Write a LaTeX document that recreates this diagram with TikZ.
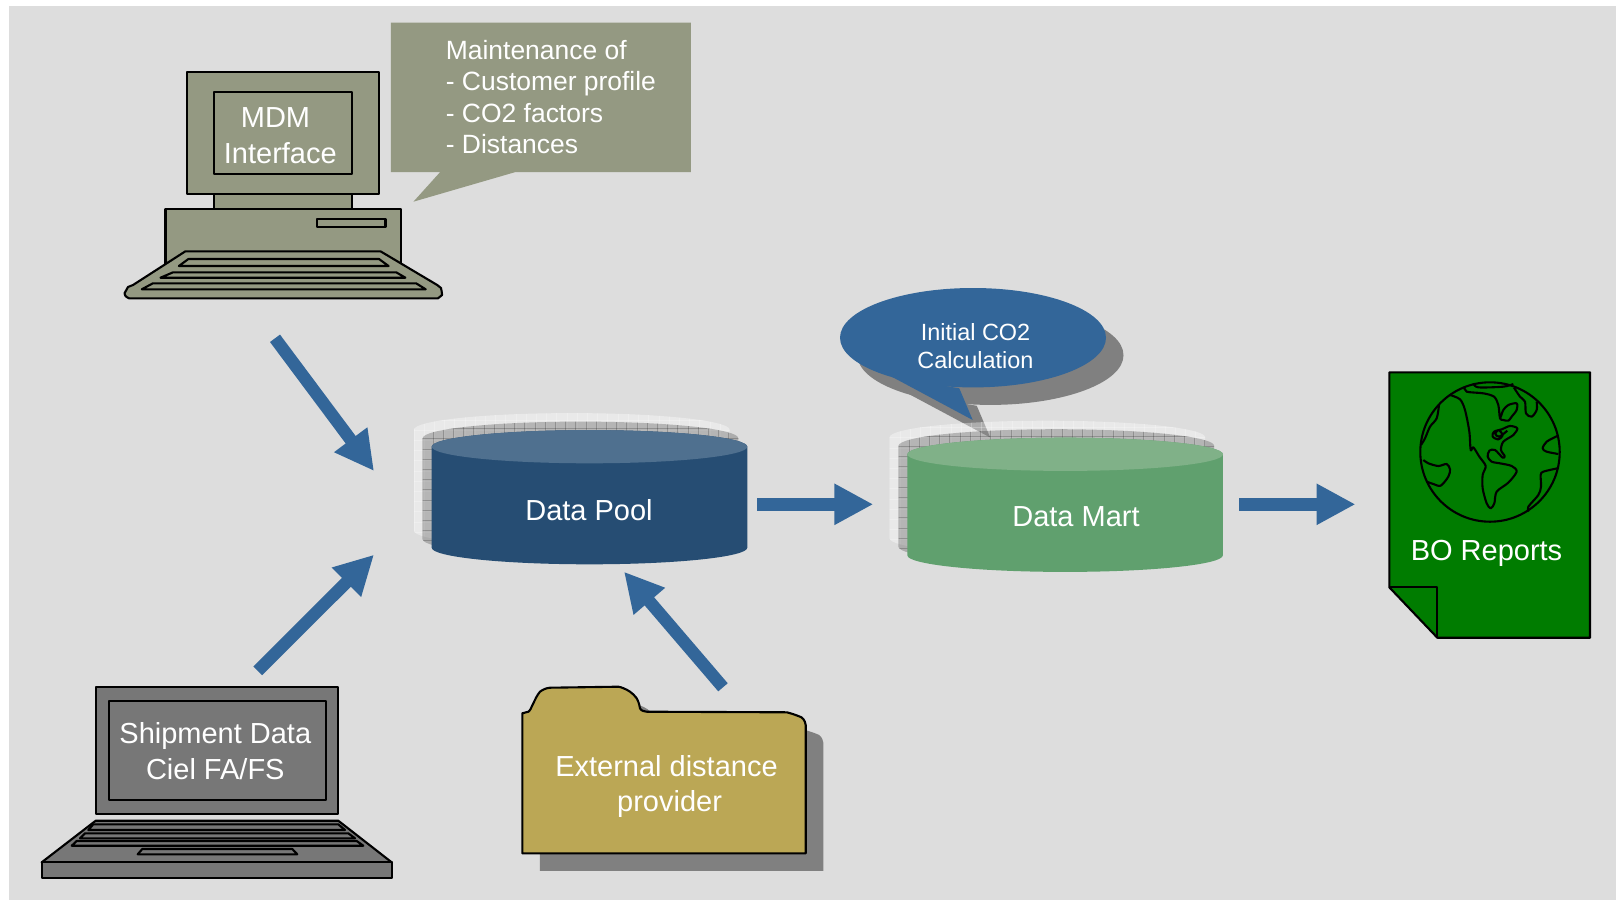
\documentclass[tikz,border=0pt]{standalone}
\usepackage{fontspec}
\setmainfont{Liberation Sans}
\usepackage{tikz}
\usetikzlibrary{arrows.meta}

\definecolor{pagegrey}{HTML}{DDDDDD}
\definecolor{olive}{HTML}{949982}
\definecolor{arrowblue}{HTML}{336699}
\definecolor{poolblue}{HTML}{264D73}
\definecolor{pooltop}{HTML}{4F708F}
\definecolor{martgreen}{HTML}{60A06E}
\definecolor{marttop}{HTML}{80B188}
\definecolor{laptopgrey}{HTML}{777777}
\definecolor{foldergold}{HTML}{BBA755}
\definecolor{reportgreen}{HTML}{007C00}
\definecolor{shadowgrey}{HTML}{808080}

\tikzset{
  outline/.style={draw=black, line width=1.2pt, line join=round},
  bigarrow/.style={draw=arrowblue, line width=7.1pt,
    -{Triangle[length=22.2pt, width=22pt]}},
  whitetext/.style={text=white, align=center, inner sep=0pt,
    font=\fontsize{16.5}{20.4}\selectfont},
  smalltext/.style={whitetext, font=\fontsize{13.35}{15.9}\selectfont},
  halo/.style={fill=white, fill opacity=.36, draw=none},
  hatched/.style={fill=black, fill opacity=.22, draw=none},
  halogrid/.style={white, opacity=.25, line width=.35pt},
  hatchgrid/.style={black, opacity=.2, line width=.35pt},
}

% one drum: body and lid, (#1,#2) is the left end of the lid
\newcommand{\drumbody}[3]{
  \fill[#3] (#1,#2) -- ++(0,101) arc[start angle=180, end angle=0, x radius=157.8, y radius=16.6]
    -- ++(0,-101) arc[start angle=0, end angle=-180, x radius=157.8, y radius=16.6] -- cycle;
}
% grid over a shadow drum
\newcommand{\drumgrid}[3]{
  \begin{scope}
    \clip (#1,#2) -- ++(0,101) arc[start angle=180, end angle=0, x radius=157.8, y radius=16.6]
      -- ++(0,-101) arc[start angle=0, end angle=-180, x radius=157.8, y radius=16.6] -- cycle;
    \foreach \gx in {0,...,31}
      \draw[#3] ({#1+10.2*\gx},{#2-20}) -- ++(0,150);
    \foreach \gy in {0,...,13}
      \draw[#3] ({#1-2},{#2-20+10.2*\gy}) -- ++(320,0);
  \end{scope}
}

\begin{document}
\begin{tikzpicture}[x=0.02cm, y=-0.02cm]

\useasboundingbox (0,0) rectangle (1616,900);
\fill[white] (0,0) rectangle (1616,900);
\fill[pagegrey] (9,6) rectangle (1616,900);

% bubble over the mart
\fill[shadowgrey, shift={(17.5,17.5)}] (891.7,376.7) -- (972.7,420) -- (959.3,388.3) -- cycle;
\fill[shadowgrey] (990.5,355.2) ellipse [x radius=133, y radius=49.7];
\fill[arrowblue] (891.7,376.7) -- (972.7,420) -- (959.3,388.3) -- cycle;
\fill[arrowblue] (973,337.7) ellipse [x radius=133, y radius=49.7];
\node[smalltext] (bubble) at (975.5,346) {Initial CO2\\Calculation};

% data pool
\drumbody{414}{429.7}{halo}
\drumgrid{414}{429.7}{halogrid}
\drumbody{422.7}{438.2}{hatched}
\drumgrid{422.7}{438.2}{hatchgrid}
\drumbody{431.7}{446.7}{poolblue}
\fill[pooltop] (589.5,446.7) ellipse [x radius=157.8, y radius=16.6];
\node[whitetext] (pool) at (589,510) {Data Pool};

% data mart
\drumbody{889.6}{437.3}{halo}
\drumgrid{889.6}{437.3}{halogrid}
\drumbody{898.6}{445.8}{hatched}
\drumgrid{898.6}{445.8}{hatchgrid}
\drumbody{907.3}{454.3}{martgreen}
\fill[marttop] (1065.2,454.3) ellipse [x radius=157.8, y radius=16.6];
\node[whitetext] (mart) at (1076,517) {Data Mart};

% mdm desktop
\draw[outline, fill=olive] (186.9,71.7) rectangle (378.6,194);
\draw[outline, fill=olive] (214.1,91.7) rectangle (351.8,174);
\draw[outline, fill=olive] (214.1,194) rectangle (351.8,209);
\draw[outline, fill=olive] (165.5,209) rectangle (400.8,268);
\draw[outline, fill=olive] (317,219) rectangle (385.5,226.7);
\draw[outline, fill=olive] (185.4,251.3) -- (380.5,251.3) -- (437.2,285) -- (441,288)
  .. controls (442,292) and (442,295) .. (442.1,295) -- (438,298.3) -- (129,298.3)
  .. controls (126,297) and (124,295) .. (124.5,293.3) -- (128,287) -- (133,285) -- cycle;
\draw[outline] (188.4,259) -- (379,259) -- (388.6,266) -- (178.9,266) -- cycle;
\draw[outline] (173.1,272.3) -- (396.2,272.3) -- (405.4,277.7) -- (160.5,277.7) -- cycle;
\draw[outline] (152.9,283.3) -- (416.1,283.3) -- (425.7,289.3) -- (141.8,289.3) -- cycle;
\node[whitetext] (mdm) at (280.3,136) {MDM\hspace*{5.5pt}\\Interface};

% maintenance callout
\fill[olive] (390.9,22.7) -- (690.9,22.7) -- (690.9,172) -- (515.6,172) -- (413.4,201.7) -- (440.2,172) -- (390.9,172) -- cycle;
\node[whitetext, align=left, anchor=west, font=\fontsize{15.05}{17.75}\selectfont] (maint) at (445.5,97)
  {Maintenance of\\- Customer profile\\- CO2 factors\\- Distances};

% laptop
\draw[outline, fill=laptopgrey] (96,686.7) rectangle (338.3,814.3);
\draw[outline, fill=laptopgrey] (109,700.7) rectangle (326,800);
\draw[outline, fill=laptopgrey] (95.7,820.7) -- (338.3,820.7) -- (391.7,862.3) -- (41.7,862.3) -- cycle;
\draw[outline, fill=laptopgrey] (41.7,862.3) rectangle (391.7,878.3);
\draw[outline] (93.3,824.3) -- (338.3,824.3) -- (345,830) -- (88.3,830) -- cycle;
\draw[outline] (85,833.3) -- (348.3,833.3) -- (355,838.3) -- (80,838.3) -- cycle;
\draw[outline] (76.7,841) -- (356.7,841) -- (363.3,845.7) -- (71.7,845.7) -- cycle;
\draw[outline] (142.3,849) -- (292.3,849) -- (297.3,854.3) -- (137.7,854.3) -- cycle;
\node[whitetext] (shipment) at (215.3,751) {Shipment Data\\Ciel FA/FS};

% folder
\newcommand{\folderpath}{(522.3,853.3) -- (805.7,853.3) -- (805.7,725)
  .. controls (805,720) and (802,717) .. (800,716.7)
  .. controls (796,715) and (790,713) .. (786.7,712.3) -- (646.7,711.7)
  .. controls (641,711) and (640,709) .. (640,708.3)
  .. controls (639,702) and (637,699) .. (636.7,698.3)
  .. controls (634,695) and (632,693) .. (630,691.7)
  .. controls (626,689) and (621,687) .. (618.3,686.7) -- (550,687.7)
  .. controls (546,688) and (542,690) .. (540,691.7)
  .. controls (537,695) and (535,700) .. (533.3,703.3)
  .. controls (531,708) and (530,711) .. (528.3,711.7) -- (522.3,713.3) -- cycle}
\fill[shadowgrey, shift={(17.6,17.6)}] \folderpath;
\draw[outline, fill=foldergold] \folderpath;
\node[whitetext] (folder) at (666.5,786.5) {External distance\\\hspace*{3.5pt}provider};

% bo reports
\draw[outline, fill=reportgreen] (1389.3,372.3) -- (1590,372.3) -- (1590,637.7) -- (1437.3,637.7) -- (1389.3,587.3) -- cycle;
\draw[outline] (1389.3,587.3) -- (1437.3,587.3) -- (1437.3,637.7);
\draw[outline] (1490,452) circle [radius=69.7];
\begin{scope}[shift={(1370,360)}, x=0.00667cm, y=-0.00667cm, outline, line width=1.2pt]
\draw plot[smooth, tension=.5] coordinates {(240,105) (270,118) (285,150) (298,215) (302,270) (310,262) (328,290) (347,318)
  (338,345) (338,385) (350,430) (362,445) (373,430) (380,395) (415,368) (440,335) (425,318) (390,310) (365,305) (353,290)
  (358,272) (375,270) (398,293) (404,288) (393,270) (400,245) (430,225) (442,205) (420,198) (395,208) (372,215) (368,230)
  (385,238) (398,225) (385,210) (376,222) (388,230) (412,212)};
\draw plot[smooth, tension=.5] coordinates {(283,80) (290,95) (340,100) (372,110) (385,135) (390,175) (400,180) (415,182)
  (425,170) (440,150) (440,130) (415,135) (400,150) (392,172)};
\draw plot[smooth, tension=.5] coordinates {(310,70) (325,82) (400,80) (430,72)};
\draw plot[smooth, tension=.5] coordinates {(432,83) (450,110) (465,125) (468,160) (485,170) (500,150) (500,125)};
\draw plot[smooth, tension=.5] coordinates {(207,135) (200,175) (180,200) (165,235) (153,255)};
\draw plot[smooth, tension=.5] coordinates {(160,300) (175,310) (205,318) (230,312) (240,328) (235,350) (212,377) (190,372) (170,365)};
\draw plot[smooth, tension=.5] coordinates {(562,228) (530,245) (518,265) (530,275) (565,282)};
\draw plot[smooth, tension=.5] coordinates {(562,325) (520,335) (512,345) (513,380) (505,405) (475,440) (475,455)};
\end{scope}
\node[whitetext] (reports) at (1486.5,553) {BO Reports};

% arrows
\coordinate (mdmout) at (275,338.3);
\coordinate (poolinA) at (374,471);
\coordinate (shipout) at (257.8,670.8);
\coordinate (poolinB) at (374,554.7);
\coordinate (folderout) at (723,687.3);
\coordinate (poolinC) at (624,571.7);
\coordinate (poolout) at (757,504.3);
\coordinate (martin) at (873.3,504.3);
\coordinate (martout) at (1239.3,504.3);
\coordinate (reportsin) at (1355.5,504.3);

\draw[bigarrow] (mdmout) -- (poolinA);
\draw[bigarrow] (shipout) -- (poolinB);
\draw[bigarrow] (folderout) -- (poolinC);
\draw[bigarrow] (poolout) -- (martin);
\draw[bigarrow] (martout) -- (reportsin);

\end{tikzpicture}
\end{document}
